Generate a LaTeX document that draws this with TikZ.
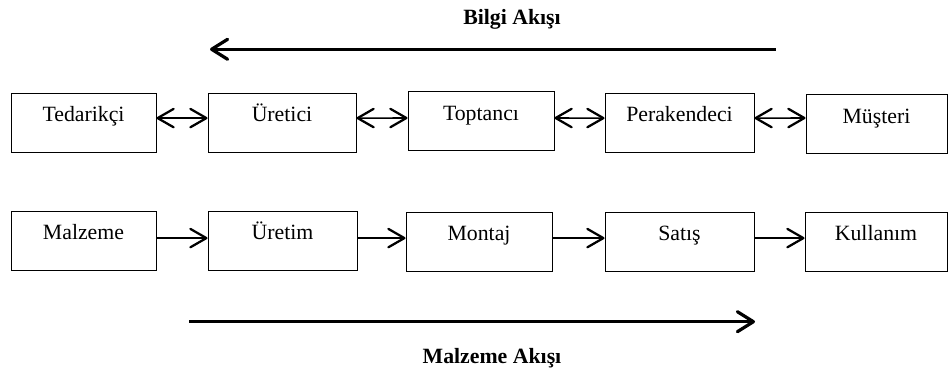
\documentclass[tikz,border=0pt]{standalone}
\usepackage{fontspec}
\setmainfont{Liberation Serif}
\usepackage{tikz}
\usetikzlibrary{arrows.meta}

\begin{document}
\begin{tikzpicture}[
    every node/.style={font=\fontsize{15.5}{18}\selectfont},
    box/.style={draw=black,line width=0.7pt,inner sep=0pt,
      text height=0.72cm,text depth=0.755cm},
    barb/.tip={Straight Barb[length=0.4cm,width=0.46cm,line width=1.6pt,round]},
    link/.style={line width=1.1pt,{barb}-{barb}},
    push/.style={line width=1.1pt,-{barb}},
    flow/.style={line width=2.3pt,-{Straight Barb[length=0.4cm,width=0.5cm,round]}}
  ]
    \useasboundingbox (0,0) rectangle (23.725,9.3);
    % actors along the chain
    \node (ted) at (2.0875,6.2375) [box,minimum width=3.625cm] {Tedarikçi};
    \node (ure) at (7.05,6.2375) [box,minimum width=3.7cm] {Üretici};
    \node (top) at (12.025,6.275) [box,minimum width=3.65cm] {Toptancı};
    \node (per) at (16.9875,6.2375) [box,minimum width=3.725cm] {Perakendeci};
    \node (mus) at (21.9125,6.2) [box,minimum width=3.525cm] {Müşteri};
    % stages of the goods
    \node (mal) at (2.0875,3.2875) [box,minimum width=3.625cm] {Malzeme};
    \node (urt) at (7.0625,3.2875) [box,minimum width=3.725cm] {Üretim};
    \node (mon) at (11.975,3.2625) [box,minimum width=3.65cm] {Montaj};
    \node (sat) at (16.9875,3.2625) [box,minimum width=3.725cm] {Satış};
    \node (kul) at (21.9,3.2625) [box,minimum width=3.55cm] {Kullanım};
    \draw [link] ([yshift=0.11cm]ted.east) -- ([yshift=0.11cm]ure.west);
    \draw [link] ([yshift=0.11cm]ure.east) -- ([yshift=0.075cm]top.west);
    \draw [link] ([yshift=0.075cm]top.east) -- ([yshift=0.11cm]per.west);
    \draw [link] ([yshift=0.11cm]per.east) -- ([yshift=0.15cm]mus.west);
    \draw [push] ([yshift=0.06cm]mal.east) -- ([yshift=0.06cm]urt.west);
    \draw [push] ([yshift=0.06cm]urt.east) -- ([yshift=0.085cm]mon.west);
    \draw [push] ([yshift=0.085cm]mon.east) -- ([yshift=0.085cm]sat.west);
    \draw [push] ([yshift=0.085cm]sat.east) -- ([yshift=0.085cm]kul.west);
    % the two flows
    \coordinate (bilgiA) at (19.39,8.0675);
    \coordinate (bilgiB) at (5.25,8.0675);
    \coordinate (malzA) at (4.725,1.2575);
    \coordinate (malzB) at (18.875,1.2575);
    \draw [flow] (bilgiA) -- (bilgiB);
    \draw [flow] (malzA) -- (malzB);
    \node (bilgi) at (12.8,8.675) [anchor=base,font=\fontsize{15.5}{18}\selectfont\bfseries] {Bilgi Akışı};
    \node (malz) at (12.3,0.2175) [anchor=base,font=\fontsize{15.5}{18}\selectfont\bfseries] {Malzeme Akışı};
\end{tikzpicture}
\end{document}
